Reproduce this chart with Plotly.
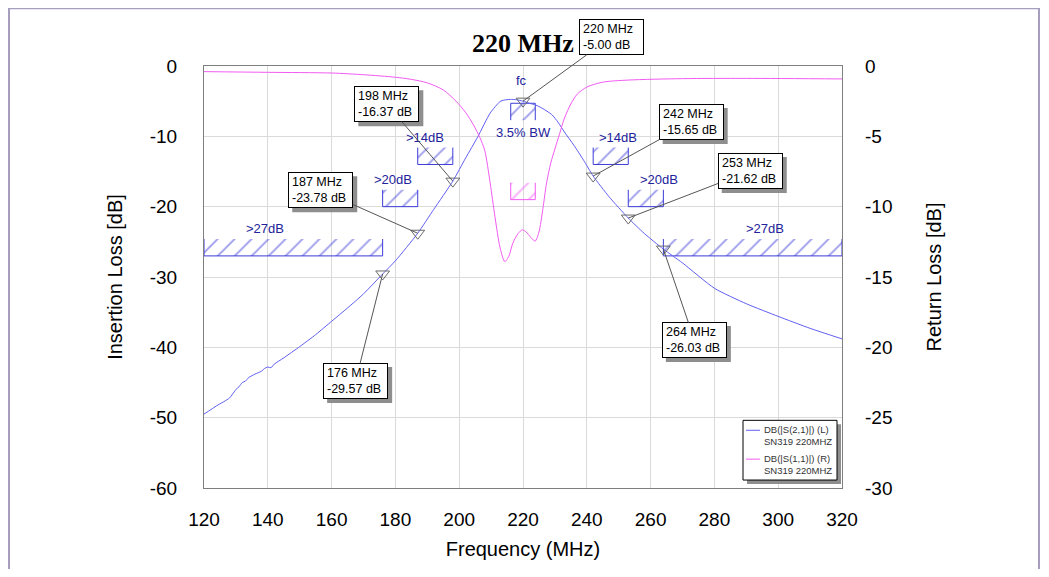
import plotly.graph_objects as go

# S21 insertion loss (left axis)
freq_s21 = [120, 124, 128, 130, 131, 132, 133, 134, 136, 138, 139, 140, 141, 142, 145, 150,
            155, 160, 165, 170, 176, 180, 187, 192, 198, 202, 205.9, 209.7, 212.8, 214, 216,
            218, 220, 222, 224, 226, 229, 231, 233, 236, 239, 242, 247, 253, 258, 264, 270,
            280, 290, 300, 310, 320]
s21_db = [-49.5, -48.3, -47.2, -46.0, -45.6, -45.0, -44.8, -44.3, -43.8, -43.4, -43.0, -42.8,
          -42.9, -42.4, -41.5, -39.9, -38.2, -36.3, -34.4, -32.4, -29.57, -27.7, -23.78, -20.4,
          -16.37, -13.1, -10.0, -6.7, -5.05, -4.85, -4.75, -4.8, -5.0, -5.3, -5.55, -6.0, -6.9,
          -8.0, -9.4, -11.3, -13.4, -15.65, -18.6, -21.62, -23.8, -26.03, -28.0, -31.6, -33.8,
          -35.6, -37.3, -38.8]

# S11 return loss (right axis)
freq_s11 = [120, 140, 160, 170, 180, 185, 190, 195, 199, 202, 204.5, 206.5, 208, 209.7, 211.2,
            212.8, 214.3, 215.6, 216.8, 218.5, 219.8, 221, 222.5, 223.8, 225, 226.2, 227.4,
            228.7, 230, 231.5, 233, 235, 237, 240, 245, 253, 270, 290, 320]
s11_db = [-0.4, -0.45, -0.5, -0.62, -0.8, -0.95, -1.2, -1.7, -2.5, -3.3, -4.2, -5.1, -6.0, -8.3,
          -10.7, -12.9, -13.9, -13.5, -12.6, -11.9, -11.65, -11.8, -12.2, -12.45, -11.8, -10.2,
          -8.3, -6.9, -5.9, -4.8, -3.7, -2.7, -2.0, -1.5, -1.15, -1.0, -0.9, -0.88, -0.92]

marker_freq = [176, 187, 198, 220, 242, 253, 264]
marker_db = [-29.57, -23.78, -16.37, -5.00, -15.65, -21.62, -26.03]

# rejection masks on S21
mask_lo = [120, 176, 187, 242, 253, 264]
mask_hi = [176, 187, 198, 253, 264, 320]
mask_level = [-27, -20, -14, -14, -20, -27]
mask_text = [">27dB", ">20dB", ">14dB", ">14dB", ">20dB", ">27dB"]

# passband masks (3.5% BW around fc)
bw_lo, bw_hi = 216.15, 223.85
bw_il_level = -5.3
bw_rl_level = -9.5

x_ticks = [120, 140, 160, 180, 200, 220, 240, 260, 280, 300, 320]
y_ticks = [0, -10, -20, -30, -40, -50, -60]
y2_ticks = [0, -5, -10, -15, -20, -25, -30]

BLUE = "#5f5ff2"
MAGENTA = "#f25af2"
HATCH = "#3c3cd8"
NAVY = "#22229a"
SHADOW = "#8e8e8e"

# label / callout placement (not data)
label_x = [139.1, 179.2, 189.3, 249.8, 262.6, 295.9]
box_dx = [-27, -97, -66, 88, 98, 122, 31]
box_dy = [107, -43, -77, -64, -54, -47, 91]
BOX_W, BOX_H = 65, 36

# plot area in page pixels (page has 8px body margin)
L, T, R, B = 204, 66, 842, 490
W, H = 1033, 561


def paper(x, y):
    return (x - L) / (R - L), (B - y) / (B - T)


fig = go.Figure()

pattern = dict(shape="/", size=12, solidity=0.16, fgcolor=HATCH,
               bgcolor="rgba(0,0,0,0)", fillmode="overlay")

for lo, hi, lvl in zip(mask_lo, mask_hi, mask_level):
    fig.add_trace(go.Scatter(
        x=[lo, lo, hi, hi], y=[lvl + 2.4, lvl, lvl, lvl + 2.4],
        mode="lines", fill="toself", fillcolor="rgba(0,0,0,0)", fillpattern=pattern,
        line=dict(color=HATCH, width=1), hoverinfo="skip", showlegend=False))

fig.add_trace(go.Scatter(
    x=[bw_lo, bw_lo, bw_hi, bw_hi], y=[bw_il_level - 2.4, bw_il_level, bw_il_level, bw_il_level - 2.4],
    mode="lines", fill="toself", fillcolor="rgba(0,0,0,0)", fillpattern=pattern,
    line=dict(color=HATCH, width=1), hoverinfo="skip", showlegend=False))

fig.add_trace(go.Scatter(
    x=[bw_lo, bw_lo, bw_hi, bw_hi], y=[bw_rl_level + 1.2, bw_rl_level, bw_rl_level, bw_rl_level + 1.2],
    yaxis="y2", mode="lines", fill="toself", fillcolor="rgba(0,0,0,0)",
    fillpattern=dict(pattern, fgcolor=MAGENTA),
    line=dict(color=MAGENTA, width=1), hoverinfo="skip", showlegend=False))

fig.add_trace(go.Scatter(x=freq_s21, y=s21_db, mode="lines", name="DB(|S(2,1)|) (L)",
                         line=dict(color=BLUE, width=1, shape="spline", smoothing=0.6),
                         showlegend=False))
fig.add_trace(go.Scatter(x=freq_s11, y=s11_db, yaxis="y2", mode="lines", name="DB(|S(1,1)|) (R)",
                         line=dict(color=MAGENTA, width=1, shape="spline", smoothing=0.8),
                         showlegend=False))
fig.add_trace(go.Scatter(x=marker_freq, y=marker_db, mode="markers",
                         marker=dict(symbol="triangle-down-open", size=12, color="#6a6a6a",
                                     line=dict(width=1)),
                         hoverinfo="skip", showlegend=False))

annotations = []
shapes = []
for lx, lvl, txt in zip(label_x, mask_level, mask_text):
    annotations.append(dict(x=lx, y=lvl + 2.4, text=txt, showarrow=False, yanchor="bottom",
                            yshift=1, font=dict(family="Arial", size=13, color=NAVY)))
annotations.append(dict(x=219.6, y=-2.1, text="fc", showarrow=False,
                        font=dict(family="Arial", size=13, color=NAVY)))
annotations.append(dict(x=220.3, y=-9.5, text="3.5% BW", showarrow=False,
                        font=dict(family="Arial", size=13, color=NAVY)))

# marker callouts with drop shadow
for f, d, dx, dy in zip(marker_freq, marker_db, box_dx, box_dy):
    shapes.append(dict(type="rect", xref="x", yref="y",
                       xsizemode="pixel", xanchor=f, x0=dx + 4 - BOX_W / 2, x1=dx + 4 + BOX_W / 2,
                       ysizemode="pixel", yanchor=d, y0=-dy - 4 - BOX_H / 2, y1=-dy - 4 + BOX_H / 2,
                       fillcolor=SHADOW, line=dict(width=0), layer="above"))
    annotations.append(dict(x=f, y=d, text=f"{f} MHz<br>{d:.2f} dB", showarrow=True,
                            ax=dx, ay=dy, align="left", width=BOX_W - 8, height=BOX_H - 8,
                            arrowhead=0, arrowwidth=1, arrowcolor="#555555", standoff=0,
                            bgcolor="white", bordercolor="black", borderwidth=1, borderpad=3,
                            font=dict(family="Arial", size=12.5, color="black")))

# hand-drawn legend box
sx0, sy0 = paper(747, 426)
sx1, sy1 = paper(841, 486)
lx0, ly0 = paper(743, 422)
lx1, ly1 = paper(837, 482)
shapes += [
    dict(type="rect", xref="paper", yref="paper", x0=sx0, y0=sy0, x1=sx1, y1=sy1,
         fillcolor=SHADOW, line=dict(width=0), layer="above"),
    dict(type="rect", xref="paper", yref="paper", x0=lx0, y0=ly0, x1=lx1, y1=ly1,
         fillcolor="white", line=dict(color="black", width=1), layer="above"),
]
for yy, col, name in [(432, BLUE, "DB(|S(2,1)|) (L)"), (461, MAGENTA, "DB(|S(1,1)|) (R)")]:
    a0, b0 = paper(746, yy)
    a1, _ = paper(760, yy)
    shapes.append(dict(type="line", xref="paper", yref="paper", x0=a0, y0=b0, x1=a1, y1=b0,
                       line=dict(color=col, width=1), layer="above"))
    tx, ty = paper(762, yy + 5.5)
    annotations.append(dict(xref="paper", yref="paper", x=tx, y=ty, xanchor="left",
                            yanchor="middle", align="left", showarrow=False,
                            text=f"{name}<br>SN319 220MHZ",
                            font=dict(family="Arial", size=9.5, color="#333333")))

# outer frame
fx0, fy0 = paper(9, 600)
fx1, fy1 = paper(1039, 8)
shapes.append(dict(type="rect", xref="paper", yref="paper", x0=fx0, y0=fy0, x1=fx1, y1=fy1,
                   line=dict(color="#a79ebf", width=2), layer="below"))

axis_common = dict(showline=True, linecolor="#7f7f7f", linewidth=1, mirror=True, ticks="",
                   zeroline=False, gridcolor="#dadada", gridwidth=1,
                   tickfont=dict(family="Arial", size=19, color="black"))
title_font = dict(family="Arial", size=20, color="black")

fig.update_layout(
    width=W, height=H,
    margin=dict(l=L - 8, r=W - (R - 8), t=T - 8, b=H - (B - 8)),
    plot_bgcolor="white", paper_bgcolor="white",
    title=dict(text="<b>220 MHz</b>", x=0.5, xref="paper", y=1 - 35 / H, yref="container",
               xanchor="center", yanchor="middle",
               font=dict(family="Liberation Serif", size=26, color="black")),
    xaxis=dict(axis_common, range=[120, 320], tickvals=x_ticks,
               ticktext=[str(v) for v in x_ticks], ticklabelstandoff=14,
               title=dict(text="Frequency (MHz)", standoff=13, font=title_font)),
    yaxis=dict(axis_common, range=[-60, 0], tickvals=y_ticks,
               ticktext=[str(v) for v in y_ticks], ticklabelstandoff=22,
               title=dict(text="Insertion Loss [dB]", standoff=21, font=title_font)),
    yaxis2=dict(overlaying="y", side="right", range=[-30, 0], tickvals=y2_ticks,
                ticktext=[str(v) for v in y2_ticks], showgrid=False,
                zeroline=False, ticks="", ticklabelstandoff=22,
                tickfont=dict(family="Arial", size=19, color="black"),
                title=dict(text="Return Loss [dB]", standoff=35, font=title_font)),
    annotations=annotations,
    shapes=shapes,
    showlegend=False,
)

fig.write_html("out.html")
